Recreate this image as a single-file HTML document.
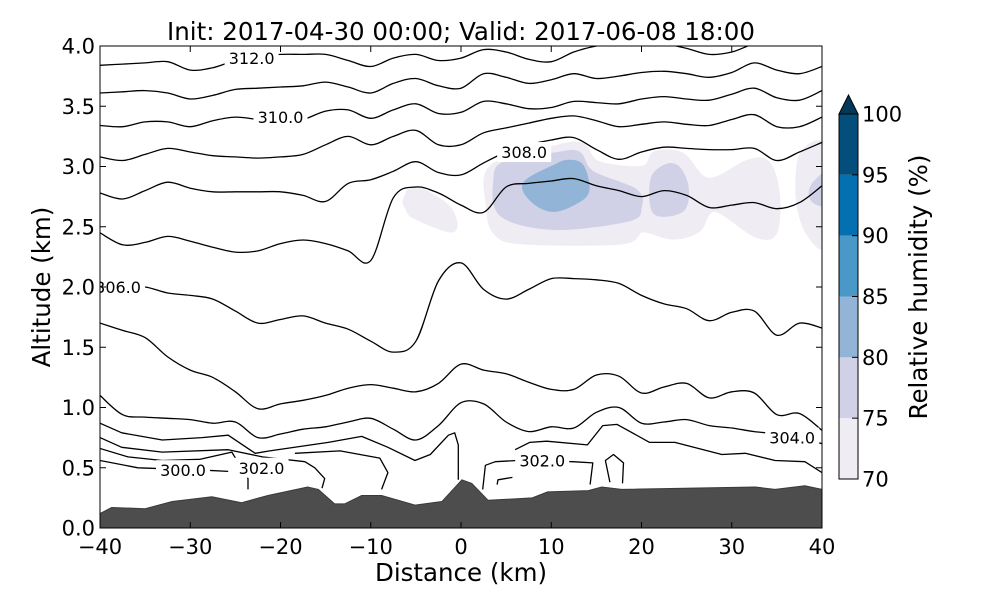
<!DOCTYPE html>
<html><head><meta charset="utf-8"><style>
html,body{margin:0;padding:0;background:#fff;}
svg{display:block;font-family:"DejaVu Sans","Liberation Sans",sans-serif;}
</style></head><body>
<svg id="chart" width="1000" height="600" viewBox="0 0 1000 600" xmlns="http://www.w3.org/2000/svg">
<defs><clipPath id="plotclip"><rect x="100" y="46" width="722" height="482"/></clipPath></defs>
<text x="461" y="40" font-size="24.5" text-anchor="middle">Init: 2017-04-30 00:00; Valid: 2017-06-08 18:00</text>
<g id="rh" clip-path="url(#plotclip)"></g>
<g id="terrain" clip-path="url(#plotclip)"></g>
<g id="contours" clip-path="url(#plotclip)"></g>
<g id="labels" clip-path="url(#plotclip)"></g>
<rect x="100" y="46" width="722" height="482" fill="none" stroke="#000" stroke-width="1"/>
<g id="axes"></g>
<text x="461" y="581" font-size="24.5" text-anchor="middle">Distance (km)</text>
<text transform="translate(50,287) rotate(-90)" font-size="24.5" text-anchor="middle">Altitude (km)</text>
<g id="cbar"></g>
<text transform="translate(927,287) rotate(-90)" font-size="24.5" text-anchor="middle">Relative humidity (%)</text>
</svg>
<script>
const NS='http://www.w3.org/2000/svg';
const gridDist=[];for(let d=-40;d<=40;d+=2.5)gridDist.push(d);
const theta312=[3.84,3.85,3.86,3.87,3.8,3.82,3.88,3.91,3.93,3.93,3.93,3.88,3.83,3.9,3.93,3.88,3.9,3.97,3.95,3.89,3.87,3.95,4.0,4.02,4.04,4.02,3.98,3.93,3.95,4.02,4.06,4.06,4.06];
const theta311=[3.61,3.62,3.63,3.61,3.56,3.59,3.64,3.65,3.66,3.67,3.7,3.66,3.61,3.69,3.73,3.67,3.65,3.77,3.74,3.69,3.72,3.77,3.73,3.75,3.78,3.79,3.77,3.74,3.78,3.86,3.8,3.77,3.83];
const theta310=[3.34,3.33,3.37,3.37,3.33,3.38,3.41,3.39,3.37,3.39,3.46,3.47,3.4,3.47,3.52,3.44,3.45,3.54,3.52,3.48,3.49,3.54,3.53,3.52,3.56,3.58,3.56,3.55,3.6,3.65,3.57,3.55,3.63];
const theta309=[3.08,3.05,3.1,3.15,3.12,3.09,3.08,3.07,3.08,3.1,3.18,3.25,3.18,3.25,3.3,3.18,3.18,3.28,3.32,3.36,3.4,3.42,3.38,3.33,3.35,3.37,3.35,3.34,3.39,3.43,3.33,3.33,3.41];
const theta308=[2.78,2.73,2.8,2.87,2.82,2.79,2.79,2.79,2.79,2.76,2.71,2.86,2.89,2.96,3.04,2.95,2.93,3.03,3.12,3.18,3.22,3.24,3.14,3.06,3.12,3.16,3.15,3.14,3.14,3.15,3.05,3.12,3.2];
const theta307=[2.45,2.35,2.37,2.42,2.38,2.33,2.29,2.3,2.36,2.39,2.36,2.3,2.22,2.74,2.83,2.78,2.68,2.62,2.83,2.86,2.88,2.9,2.84,2.8,2.75,2.8,2.76,2.66,2.68,2.7,2.65,2.7,2.84];
const theta306=[2.0,2.0,2.0,1.95,1.93,1.9,1.8,1.7,1.73,1.76,1.7,1.65,1.55,1.46,1.55,2.05,2.2,1.98,1.9,1.98,2.07,2.07,2.06,2.03,1.93,1.86,1.82,1.72,1.79,1.8,1.6,1.7,1.66];
const theta305=[1.7,1.64,1.58,1.42,1.31,1.25,1.13,0.99,1.03,1.06,1.1,1.16,1.19,1.16,1.13,1.2,1.36,1.31,1.28,1.21,1.15,1.15,1.27,1.26,1.12,1.17,1.2,1.08,1.13,1.12,0.94,0.95,0.81];
const theta304=[1.1,0.94,0.92,0.91,0.9,0.87,0.88,0.75,0.78,0.82,0.84,0.88,0.91,0.82,0.73,0.85,1.04,1.03,0.88,0.8,0.84,0.83,0.96,1.0,0.87,0.88,0.9,0.85,0.83,0.8,0.78,0.74,0.7];
const gridLines=[theta312,theta311,theta310,theta309,theta308,theta307,theta306,theta305,theta304];
const fragB_d=[-40,-37.6,-33.1,-28.7,-25.8,-22.8,-21.2,-14.7,-11,-8.1,-5.1,-3.4,-1.4,-0.7,-0.3,-0.3];
const fragB_a=[0.87,0.79,0.73,0.75,0.77,0.62,0.64,0.71,0.76,0.67,0.56,0.61,0.77,0.79,0.69,0.4];
const fragC_d=[-40,-37.6,-33.1,-25.8,-22,-17.3,-16.2,-15.1,-15.4];
const fragC_a=[0.75,0.67,0.63,0.65,0.59,0.55,0.5,0.41,0.33];
const fragD_d=[-40,-36.9,-33.1,-28.9,-25.4,-24.5,-23.6,-23.6];
const fragD_a=[0.66,0.59,0.56,0.57,0.63,0.52,0.41,0.32];
const fragE_d=[-40,-35.8,-28.4,-25.8];
const fragE_a=[0.56,0.5,0.48,0.47];
const fragF_d=[-18.4,-13.4,-9,-8.1,-8.8];
const fragF_a=[0.62,0.64,0.58,0.46,0.32];
const fragG_d=[2.4,2.7,3.8,6.2,12.4,14.6,14.3];
const fragG_a=[0.32,0.52,0.55,0.56,0.55,0.54,0.36];
const fragH_d=[6,7.6,9.5,14,15.7,17.3,20.9,23.7,28.9,31.5,34.8,38.1,40];
const fragH_a=[0.65,0.71,0.72,0.69,0.85,0.86,0.71,0.71,0.61,0.62,0.56,0.55,0.46];
const fragI_d=[4,4.1,5.7];
const fragI_a=[0.36,0.4,0.42];
const fragJ_d=[16.5,16,16.9,18,17.9];
const fragJ_a=[0.38,0.56,0.61,0.54,0.37];
const frags=[[fragB_d,fragB_a],[fragC_d,fragC_a],[fragD_d,fragD_a],[fragE_d,fragE_a],[fragF_d,fragF_a],[fragG_d,fragG_a],[fragH_d,fragH_a],[fragI_d,fragI_a],[fragJ_d,fragJ_a]];
const terrainDist=[-40,-38.7,-35,-32,-27.6,-24.3,-21.4,-17,-15.8,-14,-12.9,-11,-8.8,-5.1,-2.1,0.1,1.2,3,7.9,9.6,14.1,15.6,17.8,32.6,34.8,38.1,40];
const terrainAlt=[0.12,0.17,0.16,0.22,0.26,0.21,0.27,0.34,0.32,0.2,0.2,0.27,0.27,0.19,0.22,0.4,0.37,0.23,0.25,0.3,0.31,0.34,0.32,0.34,0.32,0.35,0.32];
const rh70main_d=[3.4,10.4,13.4,15.2,20.1,21.5,24.5,27.4,31.8,34,35.1,34.8,32.6,28.1,26.3,23.4,20.1,17.8,6.8,3.8,3.0];
const rh70main_a=[3.0,3.16,3.18,3.03,2.99,3.11,3.1,2.89,3.04,3.03,2.78,2.45,2.43,2.64,2.47,2.41,2.47,2.37,2.37,2.45,2.66];
const rh70left_d=[-6.2,-5.1,-1.4,-0.9,-5.1,-6.0];
const rh70left_a=[2.72,2.82,2.66,2.47,2.58,2.66];
const rh70right_d=[37.8,40.5,40.5,38.4,37.3];
const rh70right_a=[3.11,3.14,2.37,2.45,2.75];
const rh75main_d=[3.8,4.9,10.4,13,14.5,19.3,19.8,18.5,10.4,4.5];
const rh75main_a=[2.89,3.03,3.1,3.11,2.95,2.8,2.66,2.56,2.49,2.6];
const rh75mid_d=[21.2,22.6,24,25,24.5,21.5];
const rh75mid_a=[2.89,3.0,2.99,2.83,2.64,2.62];
const rh75right_d=[38.9,40.5,40.5,39];
const rh75right_a=[2.83,2.93,2.7,2.72];
const rh80core_d=[7.1,10.4,11.9,13.4,14,12.6,10.1,7.9];
const rh80core_a=[2.86,3.0,3.04,3.0,2.8,2.7,2.64,2.72];
const rhRegions=[[rh70main_d,rh70main_a,70],[rh70left_d,rh70left_a,70],[rh70right_d,rh70right_a,70],[rh75main_d,rh75main_a,75],[rh75mid_d,rh75mid_a,75],[rh75right_d,rh75right_a,75],[rh80core_d,rh80core_a,80]];
const cbLevels=[70,75,80,85,90,95];
const cbColors=['#f0ecf4','#d0d1e6','#91b4d7','#4a98c8','#0570b0','#034e7b'];
const cbTicks=[70,75,80,85,90,95,100];
const xTicks=[-40,-30,-20,-10,0,10,20,30,40];
const yTicks=[0.0,0.5,1.0,1.5,2.0,2.5,3.0,3.5,4.0];
const clabText=['312.0','310.0','308.0','306.0','304.0','302.0','302.0','300.0'];
const clabDist=[-23.2,-20,7,-38.0,36.7,-22.1,9,-30.8];
const clabAlt=[3.9,3.41,3.12,2.0,0.75,0.5,0.56,0.48];

const X=d=>100+(d+40)*722/80;
const Y=a=>528-a*482/4;
const CY=v=>479-(v-70)*365/30;
function mk(tag,attrs,parent){const e=document.createElementNS(NS,tag);for(const k in attrs)e.setAttribute(k,attrs[k]);parent.appendChild(e);return e;}
const colorOf=l=>cbColors[cbLevels.indexOf(l)];
function smoothPath(P,closed){
  const n=P.length;if(n<3)return 'M'+P.map(p=>p.join(',')).join('L')+(closed?'Z':'');
  const g=i=>closed?P[(i+n)%n]:P[Math.max(0,Math.min(n-1,i))];
  let s='M'+P[0][0].toFixed(1)+','+P[0][1].toFixed(1);
  const m=closed?n:n-1;
  for(let i=0;i<m;i++){
    const p0=g(i-1),p1=g(i),p2=g(i+1),p3=g(i+2);
    const c1=[p1[0]+(p2[0]-p0[0])/6,p1[1]+(p2[1]-p0[1])/6];
    const c2=[p2[0]-(p3[0]-p1[0])/6,p2[1]-(p3[1]-p1[1])/6];
    s+='C'+c1.map(v=>v.toFixed(1)).join(',')+' '+c2.map(v=>v.toFixed(1)).join(',')+' '+p2[0].toFixed(1)+','+p2[1].toFixed(1);
  }
  return s+(closed?'Z':'');
}

const rhG=document.getElementById('rh');
rhRegions.forEach(r=>{
  const P=r[0].map((d,j)=>[X(d),Y(r[1][j])]);
  const p=mk('path',{d:smoothPath(P,true),fill:colorOf(r[2]),stroke:colorOf(r[2]),'stroke-width':4,'stroke-linejoin':'round'},rhG);
  
  
});

const tG=document.getElementById('terrain');
let tp=terrainDist.map((d,i)=>X(d).toFixed(1)+','+Y(terrainAlt[i]).toFixed(1)).join(' ');
tp+=' '+X(40)+','+Y(-0.1)+' '+X(-40)+','+Y(-0.1);
const tpoly=mk('polygon',{points:tp,fill:'#4d4d4d',stroke:'#3a3a3a','stroke-width':1},tG);



const cG=document.getElementById('contours');
gridLines.forEach(arr=>{
  const P=arr.map((a,j)=>[X(gridDist[j]),Y(a)]);
  const l=mk('path',{d:smoothPath(P,false),fill:'none',stroke:'#000','stroke-width':1.3,'stroke-linejoin':'round'},cG);
  
  
});
frags.forEach(f=>{
  const pts=f[0].map((d,j)=>X(d).toFixed(1)+','+Y(f[1][j]).toFixed(1)).join(' ');
  const l=mk('polyline',{points:pts,fill:'none',stroke:'#000','stroke-width':1.3,'stroke-linejoin':'round'},cG);
  
  
});

const lG=document.getElementById('labels');
clabText.forEach((t,i)=>{
  const x=X(clabDist[i]),y=Y(clabAlt[i]);
  const r=mk('rect',{x:x-27,y:y-10,width:54,height:20,fill:'#fff'},lG);
  
  
  const tx=mk('text',{x:x,y:y+6,'font-size':16,'text-anchor':'middle',fill:'#000'},lG);
  tx.textContent=t;
  
  
});

const aG=document.getElementById('axes');
xTicks.forEach(v=>{
  const x=X(v);
  const t1=mk('line',{x1:x,y1:528,x2:x,y2:522,stroke:'#000'},aG);
  
  
  const t2=mk('line',{x1:x,y1:46,x2:x,y2:52,stroke:'#000'},aG);
  
  
  const tx=mk('text',{x:x,y:554,'font-size':21,'text-anchor':'middle'},aG);
  tx.textContent=v<0?'\u2212'+Math.abs(v):String(v);
  
  
});
yTicks.forEach(v=>{
  const y=Y(v);
  const t1=mk('line',{x1:100,y1:y,x2:106,y2:y,stroke:'#000'},aG);
  
  
  const t2=mk('line',{x1:822,y1:y,x2:816,y2:y,stroke:'#000'},aG);
  
  
  const tx=mk('text',{x:95,y:y+7.5,'font-size':21,'text-anchor':'end'},aG);
  tx.textContent=v.toFixed(1);
  
  
});

const cbG=document.getElementById('cbar');
cbLevels.forEach((l,i)=>{
  const r=mk('rect',{x:839,y:CY(l+5),width:19,height:CY(l)-CY(l+5),fill:cbColors[i]},cbG);
  
  
});
const tri=mk('polygon',{points:`839,${CY(100)} 858,${CY(100)} 848.5,95`,fill:'#023858',stroke:'#000','stroke-width':1},cbG);


const cbf=mk('rect',{x:839,y:CY(100),width:19,height:CY(70)-CY(100),fill:'none',stroke:'#000','stroke-width':1},cbG);


cbTicks.forEach(v=>{
  const y=CY(v);
  const tk=mk('line',{x1:852,y1:y,x2:858,y2:y,stroke:'#000'},cbG);
  
  
  const tx=mk('text',{x:862,y:y+7.5,'font-size':21},cbG);
  tx.textContent=String(v);
  
  
});
</script>
</body></html>
